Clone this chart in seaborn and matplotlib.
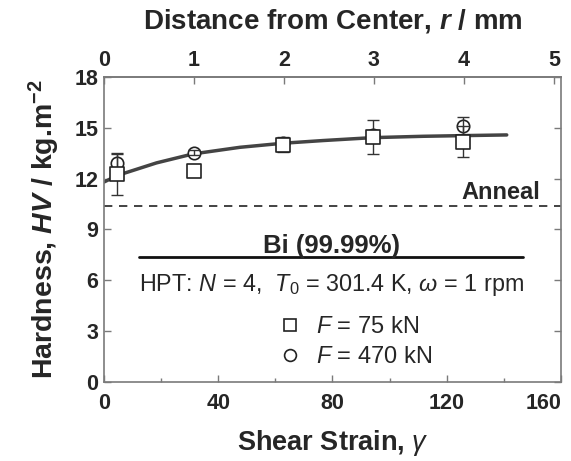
import numpy as np
import pandas as pd
import matplotlib
matplotlib.use("Agg")
import matplotlib.pyplot as plt
from matplotlib.lines import Line2D
import seaborn as sns

# ---- data ----
strain_75 = [4.7, 31.4, 62.8, 94.2, 125.7]
hv_75 = [12.28, 12.46, 14.0, 14.46, 14.17]
err_75 = [1.25, 0.15, 0.45, 1.0, 0.92]

strain_470 = [4.7, 31.4, 62.8, 94.2, 125.7]
hv_470 = [12.93, 13.52, 14.1, 14.55, 15.11]
err_470 = [0.55, 0.15, 0.3, 0.3, 0.53]

fit_strain = [0, 4.9, 18.4, 31.2, 47.6, 62.7, 76.8, 94.0, 111.7, 125.7, 141.0]
fit_hv = [11.8, 12.2, 12.93, 13.46, 13.85, 14.09, 14.25, 14.42, 14.5, 14.54, 14.58]

anneal_hv = 10.4
bi_line_strain = [12.3, 146.6]
bi_line_hv = [7.38, 7.38]

x_ticks = [0, 40, 80, 120, 160]
y_ticks = [0, 3, 6, 9, 12, 15, 18]
r_ticks = [0, 1, 2, 3, 4, 5]
strain_per_mm = 31.5

# ---- style ----
sns.set_style("ticks")
plt.rcParams["font.family"] = ["Liberation Sans", "DejaVu Sans"]
plt.rcParams["mathtext.fontset"] = "custom"
plt.rcParams["mathtext.rm"] = "Liberation Sans"
plt.rcParams["mathtext.it"] = "Liberation Sans:italic"
plt.rcParams["mathtext.bf"] = "Liberation Sans:bold"
plt.rcParams["mathtext.bfit"] = "Liberation Sans:bold:italic"

fig = plt.figure(figsize=(5.71, 4.61), dpi=100)
ax = fig.add_axes([0.182, 0.1714, 0.9825 - 0.182, 0.833 - 0.1714])

spine_col = "#7a7a7a"
mk_col = "#222222"

# fitted curve
fit_df = pd.DataFrame({"strain": fit_strain, "hv": fit_hv})
sns.lineplot(data=fit_df, x="strain", y="hv", ax=ax, color="#444444", lw=2.5,
             sort=False, estimator=None, zorder=1.5)

# anneal and Bi lines
ax.axhline(anneal_hv, color="#222222", lw=1.2, ls=(0, (5, 4)), zorder=1)
ax.plot(bi_line_strain, bi_line_hv, color="#111111", lw=2.0, zorder=1)

# 470 kN circles
df470 = pd.DataFrame({"strain": strain_470, "hv": hv_470})
ax.errorbar(strain_470, hv_470, yerr=err_470, fmt="none", ecolor="#333333",
            elinewidth=1.0, capsize=4, capthick=1.0, zorder=2.2)
sns.scatterplot(data=df470, x="strain", y="hv", ax=ax, marker="o", s=80,
                facecolor="white", edgecolor=mk_col, linewidth=1.2, zorder=2.1)

# 75 kN squares
df75 = pd.DataFrame({"strain": strain_75, "hv": hv_75})
ax.errorbar(strain_75, hv_75, yerr=err_75, fmt="none", ecolor="#333333",
            elinewidth=1.0, capsize=4, capthick=1.0, zorder=2.5)
sns.scatterplot(data=df75, x="strain", y="hv", ax=ax, marker="s", s=100,
                facecolor="white", edgecolor=mk_col, linewidth=1.2, zorder=3)

# axes
ax.set_xlim(0, 160)
ax.set_ylim(0, 18)
ax.set_xticks(x_ticks)
ax.set_xticks([20, 60, 100, 140], minor=True)
ax.set_yticks(y_ticks)
ax.tick_params(axis="both", which="major", direction="in", length=5, width=1,
               color=spine_col, labelsize=15.5, right=True)
ax.tick_params(axis="x", which="major", pad=8)
ax.tick_params(axis="y", which="major", pad=4)
ax.tick_params(axis="x", which="minor", direction="in", length=3, width=1,
               color=spine_col)
for lab in ax.get_xticklabels() + ax.get_yticklabels():
    lab.set_fontweight("bold")
ax.xaxis.get_major_ticks()[-1].label1.set_horizontalalignment("right")
for sp in ax.spines.values():
    sp.set_visible(True)
    sp.set_color(spine_col)
    sp.set_linewidth(1.2)

ax.set_xlabel(r"Shear Strain, $\gamma$", fontsize=19.5, fontweight="bold", labelpad=10)
ax.set_ylabel(r"Hardness, $\mathbfit{HV}$ / kg.m$^{\mathbf{-2}}$", fontsize=20.5,
              fontweight="bold", labelpad=9)

secax = ax.secondary_xaxis("top", functions=(lambda g: g / strain_per_mm,
                                             lambda r: r * strain_per_mm))
secax.set_xticks(r_ticks)
secax.tick_params(direction="in", length=5, width=1, color=spine_col,
                  labelsize=15.5, pad=4)
for lab in secax.get_xticklabels():
    lab.set_fontweight("bold")
secax.spines["top"].set_color(spine_col)
secax.spines["top"].set_linewidth(1.2)
secax.set_xlabel(r"Distance from Center, $\mathbfit{r}$ / mm", fontsize=20,
                 fontweight="bold", labelpad=16)

# annotations
ax.text(152.6, 10.8, "Anneal", fontsize=17, fontweight="bold", ha="right",
        va="baseline")
ax.text(79.5, 7.6, "Bi (99.99%)", fontsize=18.5, fontweight="bold",
        ha="center", va="baseline")
ax.text(79.5, 5.37, r"HPT: $\mathit{N}$ = 4,  $\mathit{T_0}$ = 301.4 K, $\omega$ = 1 rpm",
        fontsize=16.8, ha="center", va="baseline")

handles = [
    Line2D([], [], ls="none", marker="s", ms=9, mfc="white", mec=mk_col, mew=1.2),
    Line2D([], [], ls="none", marker="o", ms=8.5, mfc="white", mec=mk_col, mew=1.2),
]
ax.legend(handles, [r"$\mathit{F}$ = 75 kN", r"$\mathit{F}$ = 470 kN"],
          loc="upper left", bbox_to_anchor=(0.355, 0.255), frameon=False,
          fontsize=17, handlelength=1.0, handletextpad=0.6, labelspacing=0.35,
          borderpad=0)

fig.savefig("out.png", dpi=100)
